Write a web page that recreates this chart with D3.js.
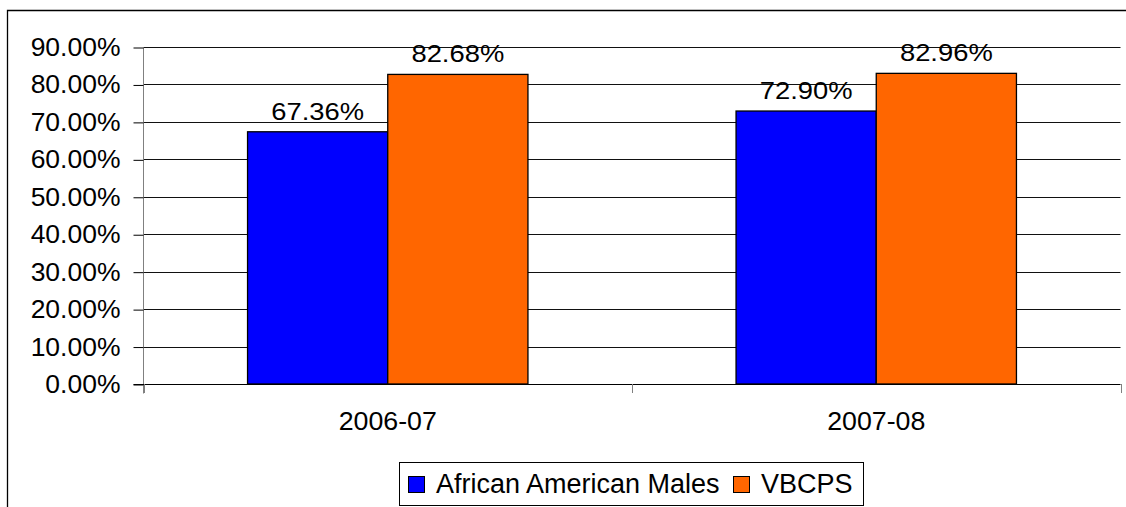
<!DOCTYPE html>
<html><head><meta charset="utf-8">
<script src="https://cdn.jsdelivr.net/npm/d3@7"></script>
<style>body{margin:0;background:#fff}svg{display:block}text{font-family:"Liberation Sans",Arial,sans-serif}</style>
</head><body><svg id="c" width="1126" height="507"></svg>
<script>
const categories = ["2006-07", "2007-08"];
const seriesNames = ["African American Males", "VBCPS"];
const aamValues = [0.6736, 0.7290];
const vbcpsValues = [0.8268, 0.8296];
const yTicks = [0, 0.1, 0.2, 0.3, 0.4, 0.5, 0.6, 0.7, 0.8, 0.9];
const colors = ["#0000FF", "#FF6600"];

(function(){
const svg = d3.select("#c");
const pL = 143.5, pR = 1120.5, pT = 47, pB = 384;
const FF = '"Liberation Sans",Arial,sans-serif';

function stretch(sel, k) {
  sel.each(function() {
    const L = this.getComputedTextLength();
    d3.select(this).attr("textLength", L * k).attr("lengthAdjust", "spacingAndGlyphs");
  });
}

// outer border (left and top visible)
svg.append("path").attr("d", "M7.5,520 L7.5,10.5 L1140,10.5").attr("fill","none").attr("stroke","#000").attr("stroke-width",1.3);

const y = d3.scaleLinear().domain([0, 0.9]).range([pB, pT]);
const x0 = d3.scaleBand().domain(categories).range([pL, pR]).paddingInner(0.426).paddingOuter(0.213);
const x1 = d3.scaleBand().domain(seriesNames).range([0, x0.bandwidth()]);

// gridlines
svg.append("g").selectAll("line").data(yTicks.slice(1)).join("line")
  .attr("x1", pL).attr("x2", pR)
  .attr("y1", d => Math.round(y(d)) + 0.5).attr("y2", d => Math.round(y(d)) + 0.5)
  .attr("stroke", "#111").attr("stroke-width", 1);

// y axis
const yAxis = d3.axisLeft(y).tickValues(yTicks).tickFormat(d3.format(".2%")).tickSize(10).tickPadding(13);
const gy = svg.append("g").attr("transform", `translate(${pL},0.5)`).call(yAxis);
gy.select(".domain").attr("stroke", "#808080").attr("d", `M0,${pT}V${pB + 9}`);
gy.selectAll(".tick line").attr("stroke", "#000");
gy.selectAll(".tick text").attr("font-size", 25).attr("fill", "#000").attr("font-family", FF);
stretch(gy.selectAll(".tick text"), 1.06);

// bars
const data = categories.map((c, i) => ({cat: c, vals: [aamValues[i], vbcpsValues[i]]}));
const groups = svg.append("g").selectAll("g").data(data).join("g")
  .attr("transform", d => `translate(${x0(d.cat)},0)`);
groups.selectAll("rect").data(d => d.vals.map((v, j) => ({v, s: seriesNames[j], j}))).join("rect")
  .attr("x", d => x1(d.s)).attr("width", x1.bandwidth())
  .attr("y", d => y(d.v)).attr("height", d => pB - y(d.v))
  .attr("fill", d => colors[d.j]).attr("stroke", "#000").attr("stroke-width", 1.3);
const vl = groups.selectAll("text.val").data(d => d.vals.map((v, j) => ({v, s: seriesNames[j], j}))).join("text")
  .attr("class", "val")
  .attr("x", d => x1(d.s) + x1.bandwidth() / 2).attr("y", d => y(d.v) - 12)
  .attr("text-anchor", "middle").attr("font-size", 24).attr("fill", "#000")
  .text(d => d3.format(".2%")(d.v));
stretch(vl, 1.14);

// x axis
const xb = d3.scaleBand().domain(categories).range([pL, pR]);
const xAxis = d3.axisBottom(xb).tickSize(0).tickPadding(28);
const gx = svg.append("g").attr("transform", `translate(0,${pB + 0.5})`).call(xAxis);
gx.select(".domain").attr("stroke", "#000").attr("d", `M${pL - 10},0H${pR}`);
gx.selectAll(".tick text").attr("font-size", 25).attr("fill", "#000").attr("font-family", FF);
stretch(gx.selectAll(".tick text"), 1.07);
// category boundary ticks
const bounds = [pL, ...categories.map(c => xb(c) + xb.bandwidth())];
svg.append("g").selectAll("line").data(bounds).join("line")
  .attr("x1", d => Math.round(d) + 0.5).attr("x2", d => Math.round(d) + 0.5)
  .attr("y1", pB).attr("y2", pB + 9).attr("stroke", "#808080");

// legend
const lg = svg.append("g");
lg.append("rect").attr("x", 399.5).attr("y", 462.5).attr("width", 464).attr("height", 43)
  .attr("fill", "#fff").attr("stroke", "#000").attr("stroke-width", 1);
const legX = [408, 733];
seriesNames.forEach((s, i) => {
  lg.append("rect").attr("x", legX[i] + 0.5).attr("y", 476.5).attr("width", 16).attr("height", 16)
    .attr("fill", colors[i]).attr("stroke", "#000").attr("stroke-width", 1);
  lg.append("text").attr("x", legX[i] + 28).attr("y", 493).attr("font-size", 27).attr("fill", "#000").text(s);
});
})();
</script></body></html>
